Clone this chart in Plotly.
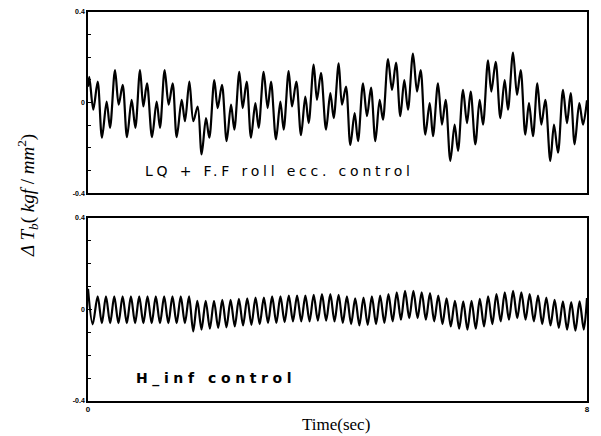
import plotly.graph_objects as go
from plotly.subplots import make_subplots

# ---------- top panel: LQ + F.F roll ecc. control (extrema) ----------
t_top = [0.0, 0.021, 0.085, 0.155, 0.224, 0.299, 0.353, 0.433, 0.492, 0.556,
         0.625, 0.700, 0.759, 0.834, 0.887, 0.946, 1.026, 1.101, 1.154, 1.229,
         1.293, 1.357, 1.422, 1.502, 1.555, 1.625, 1.689, 1.758, 1.822, 1.892,
         1.945, 2.025, 2.079, 2.148, 2.223, 2.293, 2.346, 2.426, 2.480, 2.544,
         2.613,
         2.683, 2.736, 2.816, 2.880, 2.934, 3.014, 3.084, 3.137, 3.217, 3.271,
         3.340, 3.415, 3.484, 3.538, 3.618, 3.671, 3.735, 3.816, 3.885, 3.939,
         4.019, 4.072, 4.136, 4.206, 4.275, 4.329, 4.409, 4.473, 4.537, 4.607,
         4.676, 4.729, 4.810, 4.874, 4.938, 5.007, 5.071, 5.130, 5.210, 5.275,
         5.333, 5.408, 5.478, 5.531, 5.611, 5.675, 5.734, 5.809, 5.878, 5.932,
         6.012, 6.076, 6.135, 6.210, 6.279, 6.333, 6.413, 6.466, 6.536, 6.611,
         6.680, 6.733, 6.814, 6.878, 6.937, 7.011, 7.070, 7.134, 7.204, 7.268,
         7.332, 7.412, 7.471, 7.535, 7.615, 7.679, 7.738, 7.802, 7.877, 7.936,
         8.0]
v_top = [0.07, 0.114, -0.031, 0.093, -0.155, 0.005, -0.111, 0.144, -0.009, 0.078,
         -0.152, 0.012, -0.111, 0.144, -0.017, 0.085, -0.152, 0.005, -0.111, 0.144,
         -0.009, 0.085, -0.152, 0.012, -0.082, 0.093, -0.082, -0.017, -0.228, -0.068,
         -0.155, 0.100, -0.024, 0.078, -0.170, -0.009, -0.119, 0.136, -0.024, 0.093,
         -0.155,
         -0.002, -0.111, 0.136, -0.024, 0.093, -0.162, 0.005, -0.119, 0.139, -0.017,
         0.093, -0.144, 0.027, -0.090, 0.168, 0.012, 0.132, -0.119, 0.042, -0.068,
         0.173, -0.009, 0.071, -0.187, -0.046, -0.170, 0.085, -0.060, 0.066, -0.170,
         0.012, -0.075, 0.192, 0.056, 0.177, -0.060, 0.100, -0.031, 0.216, 0.049,
         0.144, -0.141, -0.002, -0.148, 0.085, -0.097, 0.012, -0.257, -0.097, -0.213,
         0.056, -0.090, 0.049, -0.184, 0.012, -0.097, 0.187, 0.049, 0.180, -0.068,
         0.100, -0.031, 0.221, 0.034, 0.144, -0.141, -0.002, -0.148, 0.085, -0.097,
         0.012, -0.257, -0.097, -0.221, 0.056, -0.090, 0.042, -0.184, -0.002, -0.097,
         0.01]

# ---------- bottom panel: H_inf control (peaks / troughs) ----------
t_bot_ends = [0.0, 8.0]
v_bot_ends = [0.09, 0.05]

t_bot_peaks = [0.155, 0.288, 0.421, 0.555, 0.688, 0.821, 0.954, 1.087, 1.221, 1.354,
               1.487, 1.620, 1.753, 1.887, 2.020, 2.153, 2.286, 2.419, 2.553, 2.686,
               2.819, 2.952, 3.085, 3.219, 3.352, 3.485, 3.618, 3.751, 3.885, 4.018,
               4.151, 4.284, 4.417, 4.551, 4.684, 4.817, 4.950, 5.083, 5.217, 5.350,
               5.483, 5.616, 5.749, 5.883, 6.016, 6.149, 6.282, 6.415, 6.549, 6.682,
               6.815, 6.948, 7.081, 7.215, 7.348, 7.481, 7.614, 7.747, 7.881]
v_bot_peaks = [0.057, 0.057, 0.057, 0.057, 0.057, 0.057, 0.057, 0.057, 0.057, 0.057,
               0.057, 0.057, 0.038, 0.038, 0.038, 0.042, 0.042, 0.046, 0.049, 0.052,
               0.052, 0.057, 0.057, 0.061, 0.061, 0.061, 0.064, 0.067, 0.067, 0.064,
               0.057, 0.049, 0.052, 0.057, 0.061, 0.067, 0.075, 0.081, 0.081, 0.075,
               0.071, 0.061, 0.049, 0.038, 0.035, 0.038, 0.046, 0.057, 0.067, 0.075,
               0.081, 0.075, 0.067, 0.061, 0.052, 0.042, 0.035, 0.032, 0.035]

t_bot_troughs = [0.075,
                 0.222, 0.355, 0.488, 0.622, 0.755, 0.888, 1.021, 1.154, 1.288, 1.421,
                 1.554, 1.687, 1.820, 1.954, 2.087, 2.220, 2.353, 2.486, 2.620, 2.753,
                 2.886, 3.019, 3.152, 3.286, 3.419, 3.552, 3.685, 3.818, 3.952, 4.085,
                 4.218, 4.351, 4.484, 4.618, 4.751, 4.884, 5.017, 5.150, 5.284, 5.417,
                 5.550, 5.683, 5.816, 5.950, 6.083, 6.216, 6.349, 6.482, 6.616, 6.749,
                 6.882, 7.015, 7.148, 7.282, 7.415, 7.548, 7.681, 7.814, 7.948]
v_bot_troughs = [-0.065,
                 -0.060, -0.060, -0.060, -0.060, -0.060, -0.060, -0.060, -0.060, -0.060, -0.060,
                 -0.060, -0.096, -0.088, -0.084, -0.081, -0.078, -0.074, -0.070, -0.067, -0.064,
                 -0.059, -0.059, -0.055, -0.052, -0.052, -0.052, -0.049, -0.049, -0.052, -0.059,
                 -0.064, -0.070, -0.067, -0.064, -0.059, -0.052, -0.045, -0.038, -0.038, -0.045,
                 -0.052, -0.064, -0.074, -0.084, -0.088, -0.084, -0.074, -0.064, -0.052, -0.045,
                 -0.038, -0.045, -0.052, -0.064, -0.070, -0.081, -0.088, -0.093, -0.088]

x_tick_vals = [0, 8]
x_tick_text = ["0", "8"]
y_tick_vals = [-0.4, 0, 0.4]
y_tick_text = ["-0.4", "0", "0.4"]

label_top = "LQ + F.F roll ecc. control"
label_bot = "H_inf control"

# merge bottom series in time order
pairs = sorted(zip(t_bot_ends + t_bot_peaks + t_bot_troughs,
                   v_bot_ends + v_bot_peaks + v_bot_troughs))
t_bot = [p[0] for p in pairs]
v_bot = [p[1] for p in pairs]

fig = make_subplots(rows=2, cols=1, shared_xaxes=False, vertical_spacing=0.0)

line_style = dict(color="black", width=2.2, shape="spline", smoothing=0.9)
fig.add_trace(go.Scatter(x=t_top, y=v_top, mode="lines", line=line_style,
                         showlegend=False, hoverinfo="skip"), row=1, col=1)
fig.add_trace(go.Scatter(x=t_bot, y=v_bot, mode="lines", line=line_style,
                         showlegend=False, hoverinfo="skip"), row=2, col=1)

axis_common = dict(showline=True, linecolor="black", linewidth=1.5, mirror=True,
                   showgrid=False, zeroline=False)
tick_font = dict(family="Liberation Sans", size=7, color="black", weight="bold")

fig.update_layout(
    width=601, height=436,
    margin=dict(l=88, r=14, t=8, b=35),
    paper_bgcolor="white", plot_bgcolor="white",
    xaxis=dict(domain=[0, 1], range=[0, 8], showticklabels=False,
               ticks="", anchor="y", **axis_common),
    yaxis=dict(domain=[0.534, 1.0], range=[-0.4, 0.4], tickvals=y_tick_vals,
               ticktext=y_tick_text, ticks="inside", ticklen=4, tickcolor="black",
               minor=dict(dtick=0.1, ticks="inside", ticklen=3, tickcolor="black"),
               tickfont=tick_font, anchor="x", **axis_common),
    xaxis2=dict(domain=[0, 1], range=[0, 8], tickvals=x_tick_vals, ticktext=x_tick_text,
                ticks="", tickfont=dict(family="Liberation Sans", size=8, color="black",
                                        weight="bold"),
                anchor="y2", **axis_common),
    yaxis2=dict(domain=[0.0, 0.4707], range=[-0.4, 0.4], tickvals=y_tick_vals,
                ticktext=y_tick_text, ticks="inside", ticklen=4, tickcolor="black",
                minor=dict(dtick=0.1, ticks="inside", ticklen=3, tickcolor="black"),
                tickfont=tick_font, anchor="x2", **axis_common),
)

fig.add_annotation(x=0.88, y=-0.30, xref="x", yref="y",
                   text='<span style="letter-spacing:3.8px">' + label_top + '</span>',
                   showarrow=False, xanchor="left", yanchor="middle",
                   font=dict(family="DejaVu Sans", size=14, color="black"))
fig.add_annotation(x=0.74, y=-0.30, xref="x2", yref="y2",
                   text='<span style="letter-spacing:4.6px">' + label_bot + '</span>',
                   showarrow=False, xanchor="left", yanchor="middle",
                   font=dict(family="DejaVu Sans", size=14, color="black", weight="bold"))

fig.add_annotation(x=0.497, y=-0.061, xref="paper", yref="paper", text="Time(sec)",
                   showarrow=False, xanchor="center", yanchor="middle",
                   font=dict(family="Liberation Serif", size=17, color="black"))
fig.add_annotation(x=-0.12, y=0.527, xref="paper", yref="paper",
                   text="<i>\u0394 T<sub>b</sub></i>( <i>kgf</i> / <i>mm</i><sup>2</sup>)",
                   textangle=-90, showarrow=False, xanchor="center", yanchor="middle",
                   font=dict(family="Liberation Serif", size=19, color="black"))

fig.write_html("out.html", config={"displayModeBar": False},
               post_script="document.body.style.margin='0';")
